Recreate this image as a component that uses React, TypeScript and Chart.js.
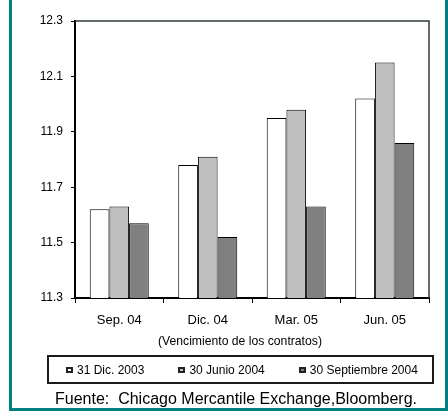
import { useEffect, useRef } from "react";
import { Chart, registerables } from "chart.js";

Chart.register(...registerables);

// Contract maturities and futures prices at three observation dates
const contracts = ["Sep. 04", "Dic. 04", "Mar. 05", "Jun. 05"];
const dic2003 = [11.62, 11.78, 11.95, 12.02];
const jun2004 = [11.63, 11.81, 11.98, 12.15];
const sep2004 = [11.57, 11.52, 11.63, 11.86];
const seriesNames = ["31 Dic. 2003", "30 Junio 2004", "30 Septiembre 2004"];
const seriesColors = ["#FFFFFF", "#C0C0C0", "#808080"];
const yTicks = [11.3, 11.5, 11.7, 11.9, 12.1, 12.3];
const axisTitle = "(Vencimiento de los contratos)";
const sourceNote = "Fuente:  Chicago Mercantile Exchange,Bloomberg.";

const FONT = "'Liberation Sans', Arial, sans-serif";

// Thin outline along the top and right of the plot area
const plotFrame = {
  id: "plotFrame",
  afterDraw(chart: any) {
    const { ctx, chartArea } = chart;
    const { left, top, right, bottom } = chartArea;
    ctx.save();
    ctx.strokeStyle = "#2f3b3b";
    ctx.lineWidth = 1.5;
    ctx.beginPath();
    ctx.moveTo(left, top);
    ctx.lineTo(right, top);
    ctx.lineTo(right, bottom);
    ctx.stroke();
    ctx.restore();
  },
};

export default function App() {
  const canvasRef = useRef<HTMLCanvasElement | null>(null);

  useEffect(() => {
    if (!canvasRef.current) return;
    const series = [dic2003, jun2004, sep2004];
    const chart = new Chart(canvasRef.current, {
      type: "bar",
      data: {
        labels: contracts,
        datasets: series.map((values, i) => ({
          label: seriesNames[i],
          data: values,
          backgroundColor: seriesColors[i],
          borderColor: "#000000",
          borderWidth: 1,
          barPercentage: 1,
          categoryPercentage: 0.667,
        })),
      },
      options: {
        responsive: false,
        animation: false,
        devicePixelRatio: 1,
        layout: { padding: { top: 21, right: 19, left: 0, bottom: 62 } },
        plugins: {
          legend: { display: false },
          tooltip: { enabled: false },
        },
        scales: {
          x: {
            grid: {
              display: true,
              drawOnChartArea: false,
              drawTicks: true,
              tickLength: 5,
              color: "#000000",
              lineWidth: 1,
              offset: true,
            },
            border: { display: true, color: "#000000", width: 2 },
            ticks: {
              color: "#000000",
              padding: 10,
              font: { family: FONT, size: 13 },
              maxRotation: 0,
            },
            afterFit: (scale: any) => {
              scale.height = 56;
            },
          },
          y: {
            min: 11.3,
            max: 12.3,
            grid: {
              display: true,
              drawOnChartArea: false,
              drawTicks: true,
              tickLength: 4,
              color: "#000000",
              lineWidth: 1,
            },
            border: { display: true, color: "#000000", width: 2 },
            ticks: {
              color: "#000000",
              padding: 8,
              font: { family: FONT, size: 12 },
              callback: (v: any) => Number(v).toFixed(1),
            },
            afterBuildTicks: (scale: any) => {
              scale.ticks = yTicks.map((v) => ({ value: v }));
            },
            afterFit: (scale: any) => {
              scale.width = 75;
            },
          },
        },
      },
      plugins: [plotFrame],
    });
    return () => chart.destroy();
  }, []);

  return (
    <div
      style={{
        position: "absolute",
        left: 0,
        top: 0,
        width: 448,
        height: 416,
        background: "#ffffff",
        overflow: "hidden",
        fontFamily: FONT,
      }}
    >
      <div
        style={{
          position: "absolute",
          left: 9,
          top: -20,
          width: 439,
          height: 431,
          border: "3px solid #008080",
          boxSizing: "border-box",
        }}
      />
      <canvas
        ref={canvasRef}
        width={448}
        height={416}
        style={{ position: "absolute", left: 0, top: 0, width: 448, height: 416 }}
      />
      <div
        style={{
          position: "absolute",
          left: 158,
          top: 334,
          fontSize: 12.2,
          lineHeight: "14px",
          color: "#000000",
          whiteSpace: "pre",
        }}
      >
        {axisTitle}
      </div>
      <div
        style={{
          position: "absolute",
          left: 47,
          top: 355,
          width: 387,
          height: 29,
          border: "2px solid #1b1b1b",
          boxSizing: "border-box",
          display: "flex",
          alignItems: "center",
          paddingLeft: 17,
          gap: 34,
          fontSize: 12,
          color: "#000000",
          whiteSpace: "nowrap",
        }}
      >
        {seriesNames.map((name, i) => (
          <span key={name} style={{ display: "flex", alignItems: "center" }}>
            <span
              style={{
                display: "inline-block",
                width: 7,
                height: 6,
                boxSizing: "border-box",
                border: "2px solid #222222",
                background: seriesColors[i],
                marginRight: 4,
              }}
            />
            {name}
          </span>
        ))}
      </div>
      <div
        style={{
          position: "absolute",
          left: 55,
          top: 391,
          fontSize: 16,
          lineHeight: "16px",
          color: "#000000",
          whiteSpace: "pre",
        }}
      >
        {sourceNote}
      </div>
    </div>
  );
}
